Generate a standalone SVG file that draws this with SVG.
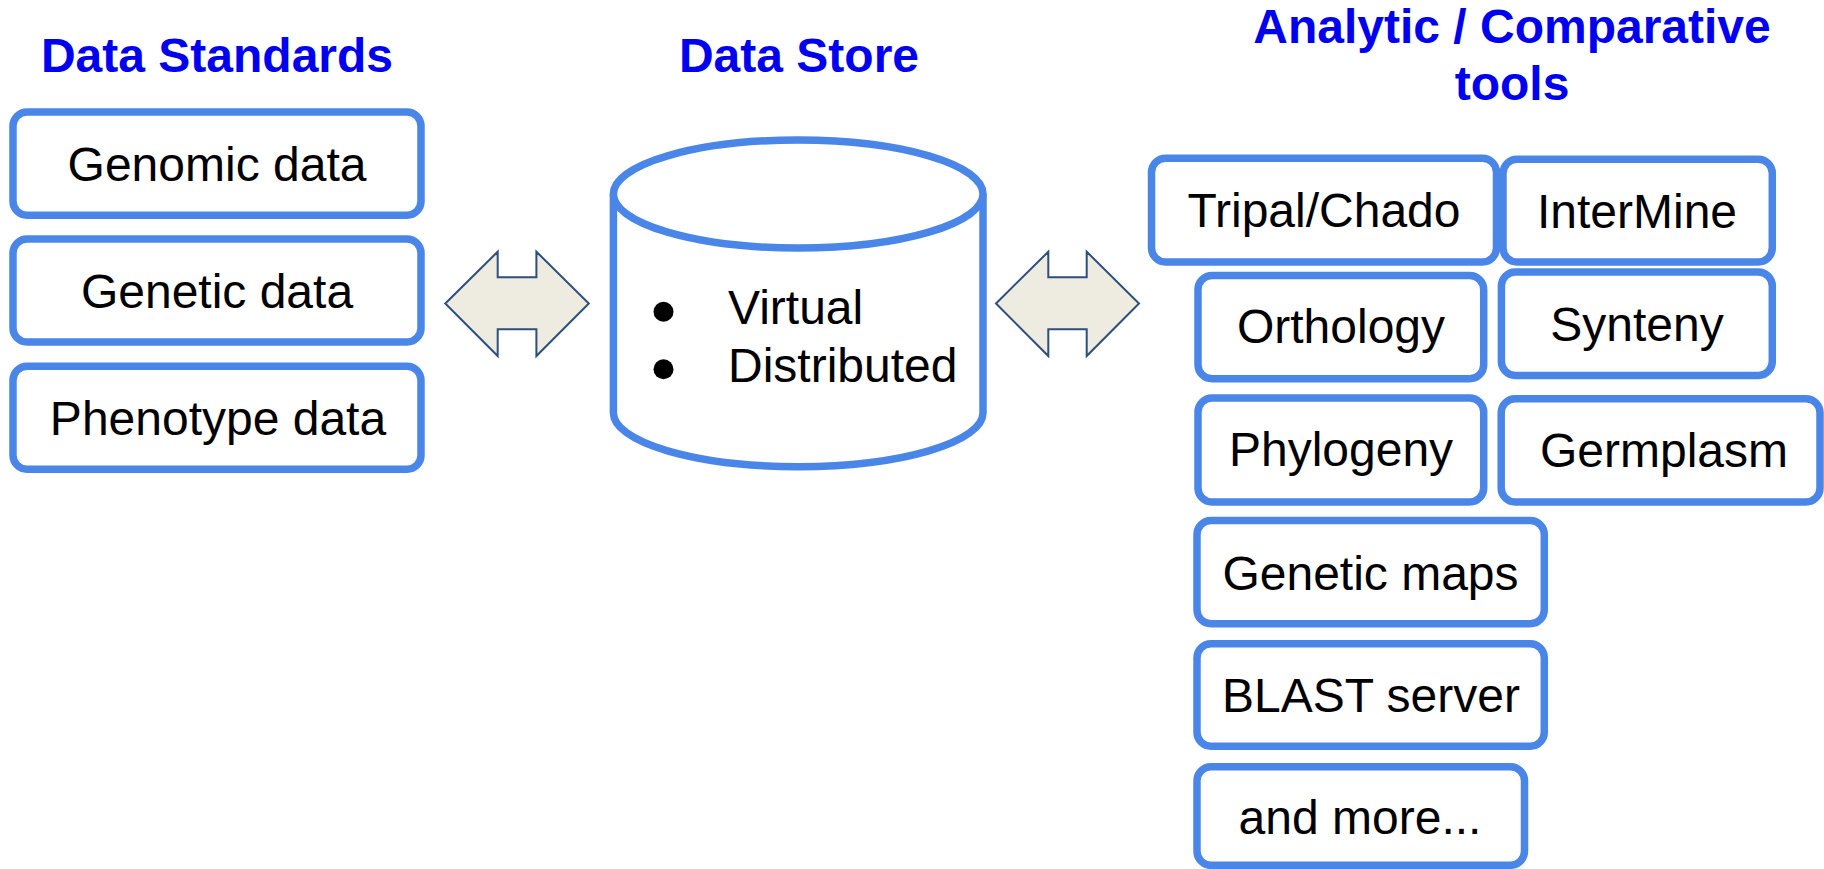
<svg xmlns="http://www.w3.org/2000/svg" width="1824" height="869" viewBox="0 0 1824 869">
<style>
.title{font-family:"Liberation Sans",Arial,sans-serif;font-weight:bold;font-size:48px;fill:#0000F0;text-anchor:middle}
.box{fill:#fff;stroke:#4A86E8;stroke-width:7.5}
.lbl{font-family:"Liberation Sans",Arial,sans-serif;font-size:48px;fill:#000;text-anchor:middle}
.cyl{fill:#fff;stroke:#4A86E8;stroke-width:7.5}
.dbl{fill:#EEEBE1;stroke:#2E4F7C;stroke-width:2;stroke-linejoin:miter}
</style>
<rect width="1824" height="869" fill="#fff"/>
<g id="titles">
<text class="title" x="217" y="72">Data Standards</text>
<text class="title" x="799" y="72">Data Store</text>
<text class="title" x="1512" y="43">Analytic / Comparative</text>
<text class="title" x="1512" y="100">tools</text>
</g>
<g id="genomic"><rect class="box" x="13" y="112" width="408" height="103.3" rx="14"/><text class="lbl" x="217" y="181">Genomic data</text></g>
<g id="genetic"><rect class="box" x="13" y="239" width="408" height="103" rx="14"/><text class="lbl" x="217" y="308">Genetic data</text></g>
<g id="phenotype"><rect class="box" x="13" y="366.3" width="408" height="103" rx="14"/><text class="lbl" x="218" y="435">Phenotype data</text></g>
<g id="datastore">
<path class="cyl" d="M613.4 194 V412.7 A184.8 54 0 0 0 983 412.7 V194"/>
<ellipse class="cyl" cx="798.2" cy="194" rx="184.8" ry="54"/>
<circle cx="663.5" cy="311.7" r="10" fill="#000"/>
<circle cx="663.5" cy="369.3" r="10" fill="#000"/>
<text class="lbl" x="728" y="324" style="text-anchor:start">Virtual</text>
<text class="lbl" x="728" y="381.7" style="text-anchor:start">Distributed</text>
</g>
<g id="tripal"><rect class="box" x="1151.5" y="158.3" width="345" height="103.7" rx="14"/><text class="lbl" x="1324" y="226.7">Tripal/Chado</text></g>
<g id="intermine"><rect class="box" x="1503" y="159.3" width="269.3" height="102.7" rx="14"/><text class="lbl" x="1637" y="228.3">InterMine</text></g>
<g id="orthology"><rect class="box" x="1198" y="275.5" width="285.7" height="103.2" rx="14"/><text class="lbl" x="1341" y="342.7">Orthology</text></g>
<g id="synteny"><rect class="box" x="1501.4" y="272" width="270.9" height="103.5" rx="14"/><text class="lbl" x="1637" y="340.7">Synteny</text></g>
<g id="phylogeny"><rect class="box" x="1198" y="398" width="285.7" height="104" rx="14"/><text class="lbl" x="1341" y="465.7">Phylogeny</text></g>
<g id="germplasm"><rect class="box" x="1501.2" y="398.8" width="318.8" height="103.2" rx="14"/><text class="lbl" x="1664" y="467">Germplasm</text></g>
<g id="geneticmaps"><rect class="box" x="1197" y="520.5" width="347.3" height="103.3" rx="14"/><text class="lbl" x="1370.5" y="590">Genetic maps</text></g>
<g id="blast"><rect class="box" x="1197" y="643.7" width="347.3" height="102.6" rx="14"/><text class="lbl" x="1371" y="711.7">BLAST server</text></g>
<g id="more"><rect class="box" x="1197" y="766.7" width="327.5" height="98.6" rx="14"/><text class="lbl" x="1360" y="834">and more...</text></g>
<g id="connectors">
<polygon class="dbl" points="445.3,303.5 497.7,251.7 497.7,277.3 536.4,277.3 536.4,251.7 588.8,303.5 536.4,356 536.4,329.3 497.7,329.3 497.7,356"/>
<polygon class="dbl" points="996,303.5 1048.3,251.7 1048.3,277.3 1086.7,277.3 1086.7,251.7 1139,303.5 1086.7,356 1086.7,329.3 1048.3,329.3 1048.3,356"/>
</g>
</svg>
